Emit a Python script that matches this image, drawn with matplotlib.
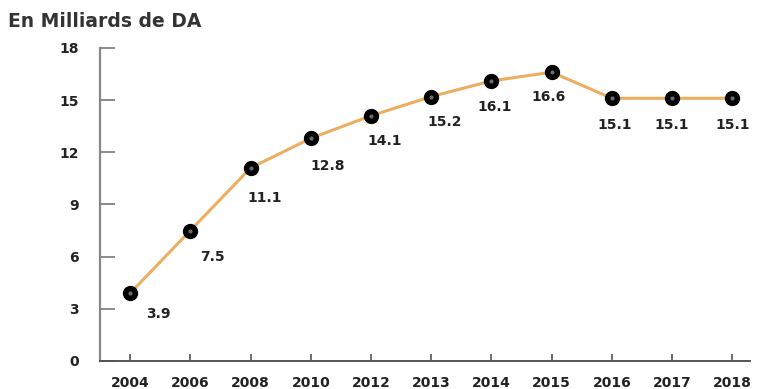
import matplotlib
matplotlib.use("Agg")
import matplotlib.pyplot as plt

plt.rcParams['font.family'] = ['DejaVu Sans']

# Values in billions of DA
years = ['2004', '2006', '2008', '2010', '2012', '2013', '2014', '2015', '2016', '2017', '2018']
values = [3.9, 7.5, 11.1, 12.8, 14.1, 15.2, 16.1, 16.6, 15.1, 15.1, 15.1]
yticks = [0, 3, 6, 9, 12, 15, 18]

# label offsets (points) relative to each marker
label_dx = [20, 16, 10, 12, 10, 10, 2, -2, 2, 0, 0]
label_dy = [-15, -19, -22, -20, -18, -18, -19, -18, -19, -19, -19]

fig = plt.figure(figsize=(7.58, 3.89), dpi=100)
ax = fig.add_axes([0.132, 0.072, 0.858, 0.805])

x = list(range(len(years)))
ax.plot(x, values, color='#EDAE62', lw=2.2, zorder=2)
ax.plot(x, values, 'o', ms=10, mfc='black', mec='black', zorder=3)
ax.plot(x, values, 'o', ms=3, mfc='#6a6a6a', mec='none', zorder=4)

for xi, v, dx, dy in zip(x, values, label_dx, label_dy):
    ax.annotate(f'{v}', (xi, v), xytext=(dx, dy), textcoords='offset points',
                ha='center', va='center', fontsize=10, fontweight='bold', color='#222222')

ax.set_xlim(-0.5, 10.3)
ax.set_ylim(0, 18)
ax.set_xticks(x)
ax.set_xticklabels(years, fontsize=10, fontweight='bold', color='#222222')
ax.set_yticks(yticks)
ax.set_yticklabels([str(t) for t in yticks], fontsize=10, fontweight='bold', color='#222222')

ax.tick_params(axis='y', direction='in', length=11, width=1.2, color='#777777', pad=15)
ax.tick_params(axis='x', direction='in', length=5, width=1.2, color='#555555', pad=11)

for s in ['top', 'right']:
    ax.spines[s].set_visible(False)
ax.spines['left'].set_color('#888888')
ax.spines['left'].set_linewidth(1.6)
ax.spines['bottom'].set_color('#555555')
ax.spines['bottom'].set_linewidth(1.4)

fig.text(0.011, 0.945, 'En Milliards de DA', fontsize=13.5, fontweight='bold',
         color='#333333', ha='left', va='center')

fig.savefig('out.png', dpi=100)
